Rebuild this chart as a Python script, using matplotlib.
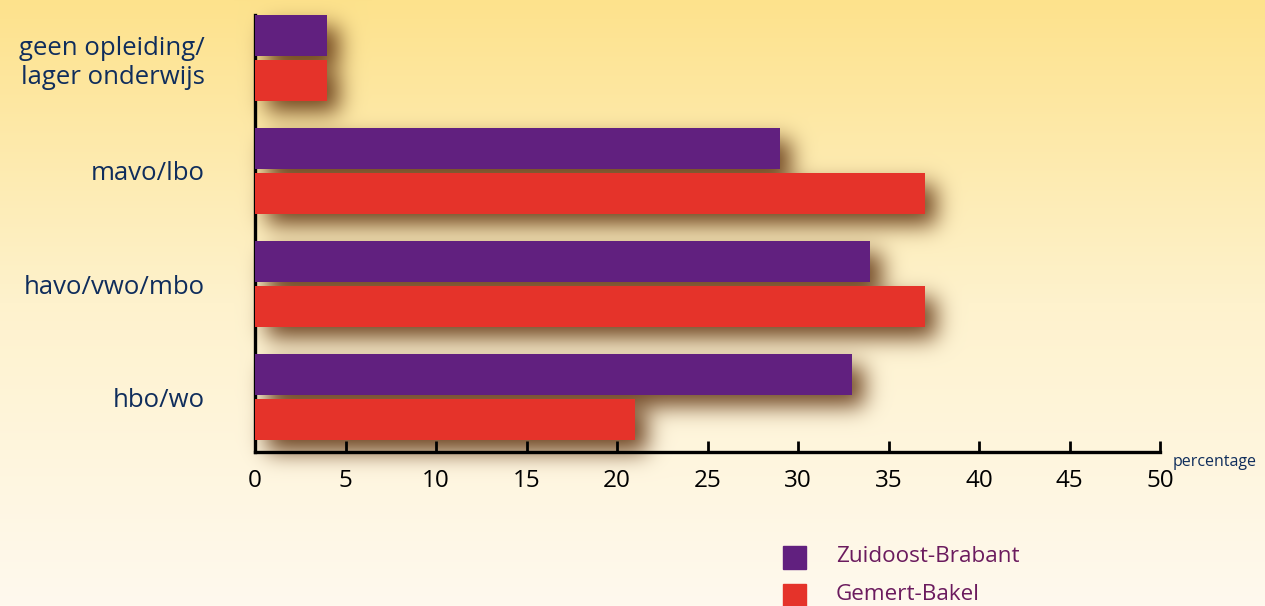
import numpy as np
import matplotlib
matplotlib.use('Agg')
import matplotlib.pyplot as plt
from matplotlib.patches import Rectangle

categories = ['geen opleiding/\nlager onderwijs', 'mavo/lbo', 'havo/vwo/mbo', 'hbo/wo']
zuidoost = [4, 29, 34, 33]
gemert = [4, 37, 37, 21]
xticks = [0, 5, 10, 15, 20, 25, 30, 35, 40, 45, 50]
series_names = ['Zuidoost-Brabant', 'Gemert-Bakel']

PURPLE = '#61207f'
RED = '#e5332a'
NAVY = '#0f2d5c'
W, H = 1265, 606

plt.rcParams['font.family'] = ['Open Sans', 'DejaVu Sans']

fig = plt.figure(figsize=(W / 100, H / 100), dpi=100)
bg = fig.add_axes([0, 0, 1, 1], zorder=0)
bg.axis('off')
ax = fig.add_axes([255 / W, 154 / H, 905 / W, 437 / H], zorder=1)
ax.set_facecolor('none')

pos = np.arange(len(categories))
ax.barh(pos - 0.2, zuidoost, height=0.36, color=PURPLE, zorder=3)
ax.barh(pos + 0.2, gemert, height=0.36, color=RED, zorder=3)
ax.set_xlim(0, 50)
ax.set_ylim(3.486, -0.38)

ax.set_xticks(xticks)
ax.set_xticklabels([str(t) for t in xticks], fontsize=17.5, color='black')
ax.set_yticks(pos)
ax.set_yticklabels(categories, fontsize=18.5, color=NAVY, linespacing=1.2)
ax.tick_params(axis='x', direction='in', length=8, width=2, pad=12)
ax.tick_params(axis='y', length=0, pad=36)
for s in ['top', 'right']:
    ax.spines[s].set_visible(False)
for s in ['left', 'bottom']:
    ax.spines[s].set_linewidth(2.4)
    ax.spines[s].set_color('black')

# background gradient with blurred drop shadows under the bars
t = np.linspace(0, 1, H)[:, None]
top = np.array([253, 226, 140]) / 255
mid = np.array([254, 242, 205]) / 255
bot = np.array([255, 249, 238]) / 255
w = np.clip(t / 0.5, 0, 1)
w2 = np.clip((t - 0.5) / 0.5, 0, 1)
col = np.where(t < 0.5, top + (mid - top) * w, mid + (bot - mid) * w2)
img = np.repeat(col[:, None, :], W, axis=1).reshape(H, W, 3)

mask = np.zeros((H, W))
dx, dy = 12, 12
for vals, off in [(zuidoost, -0.2), (gemert, 0.2)]:
    for i, v in enumerate(vals):
        (x0, y0), (x1, y1) = ax.transData.transform([(0, i + off - 0.18), (v, i + off + 0.18)])
        r0, r1 = int(H - max(y0, y1)) + dy, int(H - min(y0, y1)) + dy
        c0, c1 = int(x0) + dx, int(x1) + dx
        mask[r0:r1, c0:c1] = 1
sig = 11
kx = np.arange(-3 * sig, 3 * sig + 1)
k = np.exp(-kx ** 2 / (2 * sig ** 2))
k /= k.sum()
mask = np.apply_along_axis(lambda m: np.convolve(m, k, mode='same'), 1, mask)
mask = np.apply_along_axis(lambda m: np.convolve(m, k, mode='same'), 0, mask)
a = (0.9 * mask)[:, :, None]
shadow = np.array([95, 50, 15]) / 255
img = img * (1 - a) + shadow * a
bg.imshow(img, extent=[0, 1, 0, 1], aspect='auto')
bg.set_xlim(0, 1)
bg.set_ylim(0, 1)

fig.text(1173 / W, 1 - 462 / H, 'percentage', fontsize=11.5, color=NAVY, va='center', ha='left')

# legend
for j, (name, c) in enumerate(zip(series_names, [PURPLE, RED])):
    yc = 557 + 38 * j
    fig.patches.append(Rectangle((783 / W, 1 - (yc + 11.5) / H), 23 / W, 23 / H,
                                 transform=fig.transFigure, color=c, zorder=2))
    fig.text(836 / W, 1 - yc / H, name, fontsize=16.2, color='#6b1b5e', va='center', ha='left')

fig.savefig('out.png', dpi=100)
